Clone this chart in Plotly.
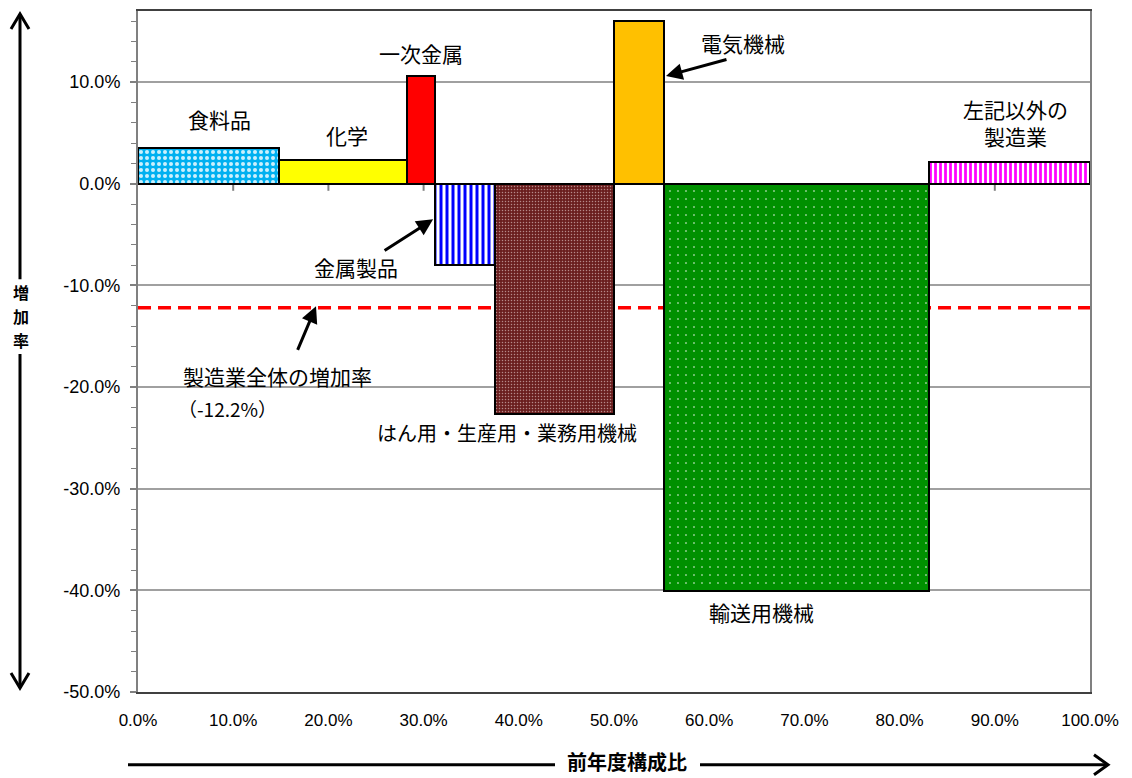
import plotly.graph_objects as go

# ---- data ----
categories = ["食料品", "化学", "一次金属", "金属製品", "はん用・生産用・業務用機械",
              "電気機械", "輸送用機械", "左記以外の製造業"]
share = [0.148, 0.1345, 0.0295, 0.063, 0.125, 0.0525, 0.2785, 0.169]   # 前年度構成比
growth = [0.035, 0.0235, 0.106, -0.080, -0.226, 0.160, -0.401, 0.021]  # 増加率
total_growth = -0.122

y_tickvals = [-0.5, -0.4, -0.3, -0.2, -0.1, 0.0, 0.1]
y_ticktext = ["-50.0%", "-40.0%", "-30.0%", "-20.0%", "-10.0%", "0.0%", "10.0%"]
x_tickvals = [i / 10 for i in range(11)]
x_ticktext = ["0.0%", "10.0%", "20.0%", "30.0%", "40.0%", "50.0%", "60.0%",
              "70.0%", "80.0%", "90.0%", "100.0%"]

# ---- styles ----
styles = [
    dict(color="#00B0F0", pattern=dict(shape=".", fgcolor="#FFFFFF", bgcolor="#00B0F0", size=6, solidity=0.35, fgopacity=0.8, fillmode="overlay")),
    dict(color="#FFFF00"),
    dict(color="#FF0000"),
    dict(color="#FFFFFF", pattern=dict(shape="|", fgcolor="#0000FF", bgcolor="#FFFFFF", size=6, solidity=0.5, fgopacity=1, fillmode="overlay")),
    dict(color="#6A1E1E", pattern=dict(shape=".", fgcolor="#E8D0D0", bgcolor="#6A1E1E", size=3, solidity=0.2, fgopacity=0.6, fillmode="overlay")),
    dict(color="#FFC000"),
    dict(color="#009000", pattern=dict(shape=".", fgcolor="#FFFFFF", bgcolor="#009000", size=8, solidity=0.03, fgopacity=1, fillmode="overlay")),
    dict(color="#FFFFFF", pattern=dict(shape="|", fgcolor="#FF00FF", bgcolor="#FFFFFF", size=5, solidity=0.55, fgopacity=1, fillmode="overlay")),
]

fig = go.Figure()
left = 0.0
for cat, w, g, st in zip(categories, share, growth, styles):
    marker = dict(color=st["color"], line=dict(color="#000000", width=2))
    if "pattern" in st:
        marker["pattern"] = st["pattern"]
    fig.add_trace(go.Bar(x=[left + w / 2], y=[g], width=[w], name=cat,
                         marker=marker, showlegend=False, hoverinfo="skip"))
    left += w

JP = "Noto Sans CJK JP"

# page body has an 8px margin: size the figure so the plot area lands at 138..1090 x 9..692
fig.update_layout(
    width=1124, height=770,
    margin=dict(l=130, r=42, t=1, b=86),
    paper_bgcolor="white", plot_bgcolor="white",
    barmode="overlay", bargap=0,
    font=dict(family=JP, size=20, color="#000000"),
    xaxis=dict(range=[0, 1], tickvals=x_tickvals, ticktext=x_ticktext,
               showgrid=False, zeroline=False, ticks="",
               showline=True, linecolor="#404040", linewidth=2, mirror=True,
               tickfont=dict(family="Liberation Sans Narrow, Arial Narrow, Liberation Sans", size=17, color="#000000"),
               ticklabelstandoff=12),
    yaxis=dict(range=[-0.5, 0.17], tickvals=y_tickvals, ticktext=y_ticktext,
               showgrid=True, gridcolor="#A0A0A0", gridwidth=2,
               zeroline=True, zerolinecolor="#404040", zerolinewidth=2,
               showline=True, linecolor="#808080", linewidth=2, mirror=True,
               ticks="outside", ticklen=6, tickcolor="#808080", tickwidth=2,
               minor=dict(dtick=0.02, tick0=0, ticks="outside", ticklen=5, tickcolor="#808080", tickwidth=1),
               tickfont=dict(family="Liberation Sans", size=18, color="#000000"),
               ticklabelstandoff=6),
)

# overall growth dashed line
fig.add_shape(type="line", xref="paper", yref="y", x0=0, x1=1,
              y0=total_growth, y1=total_growth, layer="below",
              line=dict(color="#FF0000", width=3.5, dash="13px,7px"))

# x tick marks on the zero line
for tv in x_tickvals[1:-1]:
    fig.add_shape(type="line", xref="x", yref="y", x0=tv, x1=tv,
                  ysizemode="pixel", yanchor=0, y0=0, y1=-7, layer="below",
                  line=dict(color="#808080", width=2))

# ---- labels ----
def lab(x, y, text, size=21, **kw):
    fig.add_annotation(x=x, y=y, xref="x", yref="y", text=text, showarrow=False,
                       font=dict(family=JP, size=size, color="#000000"), **kw)

lab(0.086, 0.064, "食料品")
lab(0.220, 0.048, "化学")
lab(0.297, 0.129, "一次金属")
lab(0.636, 0.139, "電気機械")
lab(0.922, 0.060, "左記以外の<br>製造業", align="center")
lab(0.229, -0.082, "金属製品")
lab(0.3876, -0.245, "はん用・生産用・業務用機械", size=20)
lab(0.655, -0.4216, "輸送用機械")
lab(0.045, -0.189, "製造業全体の増加率", xanchor="left")
lab(0.040, -0.2206, "（-12.2%）", size=19, xanchor="left")

def arrow(x, y, ax, ay):
    fig.add_annotation(x=x, y=y, xref="x", yref="y", ax=ax, ay=ay, axref="pixel", ayref="pixel",
                       text="", showarrow=True, arrowhead=2, arrowsize=1.1, arrowwidth=3,
                       arrowcolor="#000000", standoff=0)

arrow(0.5546, 0.106, 62, -17)
arrow(0.310, -0.035, -50, 32)
arrow(0.187, -0.1206, -19, 45)

# ---- axis titles with long arrows (paper coords from pixel positions) ----
def fx(px):
    return (px - 138) / 952

def fy(py):
    return (692 - py) / 683

line_style = dict(color="#000000", width=3)
# vertical arrow (left)
fig.add_shape(type="line", xref="paper", yref="paper", x0=fx(20), x1=fx(20), y0=fy(12), y1=fy(278), line=line_style)
fig.add_shape(type="line", xref="paper", yref="paper", x0=fx(20), x1=fx(20), y0=fy(353), y1=fy(688), line=line_style)
fig.add_shape(type="path", xref="paper", yref="paper",
              path=f"M {fx(11)},{fy(27)} L {fx(20)},{fy(12)} L {fx(29)},{fy(27)}", line=line_style)
fig.add_shape(type="path", xref="paper", yref="paper",
              path=f"M {fx(11)},{fy(673)} L {fx(20)},{fy(688)} L {fx(29)},{fy(673)}", line=line_style)
for i, ch in enumerate("増加率"):
    fig.add_annotation(x=fx(21), y=fy(291 + 24 * i), xref="paper", yref="paper", text=f"<b>{ch}</b>",
                       xanchor="center", yanchor="middle",
                       showarrow=False, font=dict(family=JP, size=16, color="#000000"))

# horizontal arrow (bottom)
fig.add_shape(type="line", xref="paper", yref="paper", x0=fx(128), x1=fx(555), y0=fy(765), y1=fy(765), line=line_style)
fig.add_shape(type="line", xref="paper", yref="paper", x0=fx(700), x1=fx(1107), y0=fy(765), y1=fy(765), line=line_style)
fig.add_shape(type="path", xref="paper", yref="paper",
              path=f"M {fx(1094)},{fy(755)} L {fx(1108)},{fy(765)} L {fx(1094)},{fy(775)}", line=line_style)
fig.add_annotation(x=fx(627), y=fy(762), xref="paper", yref="paper", text="<b>前年度構成比</b>",
                   xanchor="center", yanchor="middle",
                   showarrow=False, font=dict(family=JP, size=20, color="#000000"))

fig.write_html("out.html")
